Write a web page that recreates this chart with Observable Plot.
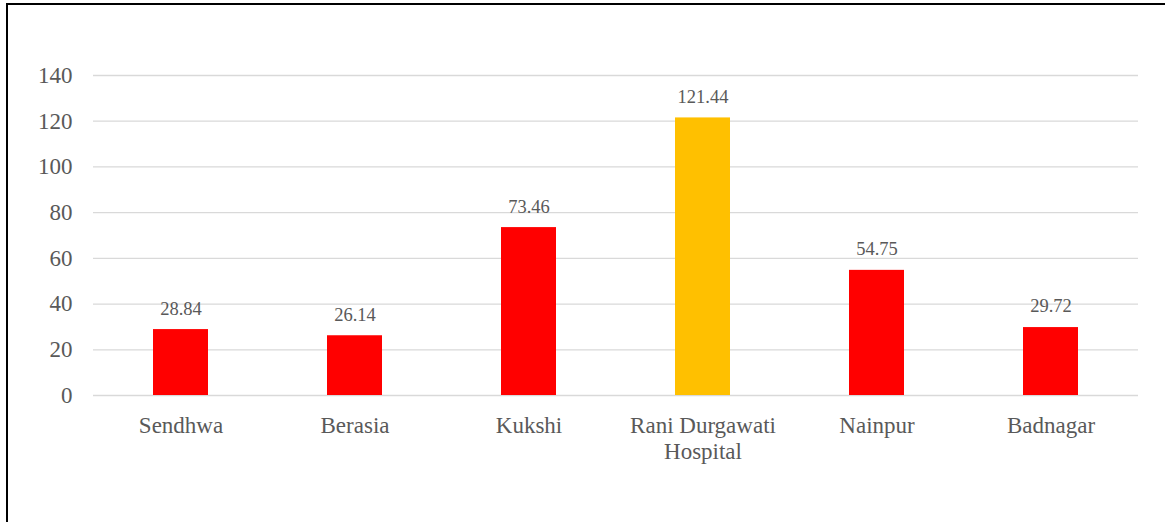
<!DOCTYPE html>
<html>
<head>
<meta charset="utf-8">
<script src="https://cdn.jsdelivr.net/npm/d3@7"></script>
<script src="https://cdn.jsdelivr.net/npm/@observablehq/plot@0.6"></script>
<style>
  html, body { margin: 0; padding: 0; background: #fff; }
  #wrap { position: relative; width: 1165px; height: 522px; overflow: hidden; }
  #border { position: absolute; left: 6px; top: 3px; width: 1200px; height: 600px;
            border-left: 2px solid #000; border-top: 2px solid #000; pointer-events: none; }
  svg { display: block; }
  svg text { font-family: "Liberation Serif", "Times New Roman", serif !important; }
</style>
</head>
<body>
<div id="wrap"><div id="border"></div></div>
<script>
const categories = ["Sendhwa", "Berasia", "Kukshi", "Rani Durgawati Hospital", "Nainpur", "Badnagar"];
const tickLabels = ["Sendhwa", "Berasia", "Kukshi", "Rani Durgawati\nHospital", "Nainpur", "Badnagar"];
const values = [28.84, 26.14, 73.46, 121.44, 54.75, 29.72];
const highlight = ["Rani Durgawati Hospital"];
const yTicks = [0, 20, 40, 60, 80, 100, 120, 140];

const data = categories.map((c, i) => ({ category: c, value: values[i], label: values[i].toFixed(2) }));
const fontFamily = '"Liberation Serif", "Times New Roman", serif';
const textColor = "#595959";

const chart = Plot.plot({
  width: 1165,
  height: 522,
  marginLeft: 93,
  marginRight: 27,
  marginTop: 75,
  marginBottom: 127,
  style: { fontFamily, color: textColor, background: "transparent" },
  x: { domain: categories, paddingInner: 0.684, paddingOuter: 0.342, label: null },
  y: { domain: [0, 140], label: null },
  marks: [
    Plot.gridY(yTicks, { stroke: "#d9d9d9", strokeOpacity: 1, strokeWidth: 1.3 }),
    Plot.barY(data, {
      x: "category",
      y: "value",
      fill: d => highlight.includes(d.category) ? "#FFC000" : "#FF0000"
    }),
    Plot.text(data, {
      x: "category",
      y: "value",
      text: "label",
      dy: -21,
      fontSize: 18.5,
      fontFamily,
      fill: textColor
    }),
    Plot.axisY(yTicks, {
      tickSize: 0,
      tickPadding: 21,
      fontSize: 23,
      fontFamily,
      fill: textColor,
      label: null,
      tickFormat: d => String(d)
    }),
    Plot.axisX({
      tickSize: 0,
      tickPadding: 19,
      fontSize: 23,
      fontFamily,
      lineHeight: 1.13,
      fill: textColor,
      label: null,
      tickFormat: d => tickLabels[categories.indexOf(d)]
    })
  ]
});
document.getElementById("wrap").insertBefore(chart, document.getElementById("border"));
</script>
</body>
</html>
